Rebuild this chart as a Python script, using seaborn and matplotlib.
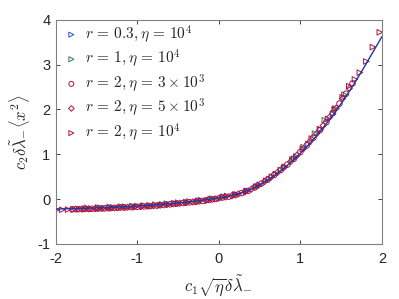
import numpy as np
import pandas as pd
import seaborn as sns
from matplotlib import pyplot as plt

# theory curve
curve_x = [-2, -1.875, -1.75, -1.625, -1.5, -1.375, -1.25, -1.125, -1, -0.875, -0.75, -0.625,
           -0.5, -0.375, -0.25, -0.125, 0, 0.125, 0.25, 0.375, 0.5, 0.625, 0.75, 0.875,
           1, 1.125, 1.25, 1.375, 1.5, 1.625, 1.75, 1.875, 2]
curve_y = [-0.22, -0.215, -0.209, -0.203, -0.196, -0.188, -0.178, -0.167, -0.155, -0.14, -0.125, -0.105,
           -0.085, -0.06, -0.035, -0.005, 0.03, 0.068, 0.124, 0.205, 0.32, 0.456, 0.619, 0.807,
           1.02, 1.259, 1.524, 1.814, 2.13, 2.47, 2.84, 3.23, 3.62]

# simulation points
blue_x = [-1.45, -1.3, -1.15, -1.0, -0.85, -0.7, -0.55, -0.4, -0.25, -0.1, 0.05, 0.2, 0.35, 0.5,
          0.65, 0.8, 0.95, 1.1, 1.25, 1.4]
blue_y = [-0.193, -0.183, -0.168, -0.155, -0.138, -0.118, -0.092, -0.065, -0.035, 0.0, 0.047, 0.1,
          0.185, 0.32, 0.5, 0.7, 0.95, 1.23, 1.55, 1.9]

green_x = [-1.62, -1.48, -1.34, -1.2, -1.06, -0.92, -0.78, -0.64, -0.5, -0.36, -0.22, -0.08, 0.06,
           0.2, 0.34, 0.48, 0.62, 0.76, 0.9, 1.04, 1.18, 1.3, 1.42, 1.54]
green_y = [-0.19, -0.183, -0.175, -0.165, -0.152, -0.14, -0.123, -0.1, -0.077, -0.05, -0.02, 0.015,
           0.055, 0.1, 0.18, 0.29, 0.45, 0.65, 0.88, 1.16, 1.46, 1.76, 2.0, 2.33]

circ_x = [-1.80, -1.72, -1.64, -1.56, -1.48, -1.40, -1.32, -1.24, -1.16, -1.08, -1.00, -0.92, -0.84,
          -0.76, -0.68, -0.60, -0.52, -0.44, -0.36, -0.28, -0.20, -0.12, -0.04, 0.04, 0.12, 0.20,
          0.28, 0.36, 0.44, 0.52, 0.60, 0.68, 0.76, 0.84, 0.92, 1.00, 1.08, 1.16, 1.24, 1.32,
          1.40, 1.48, 1.56, 1.64]
circ_y = [-0.226, -0.223, -0.219, -0.215, -0.21, -0.205, -0.199, -0.192, -0.185, -0.178, -0.17,
          -0.162, -0.154, -0.142, -0.13, -0.115, -0.10, -0.087, -0.072, -0.056, -0.04, -0.018,
          0.005, 0.035, 0.055, 0.09, 0.135, 0.185, 0.26, 0.345, 0.435, 0.54, 0.65, 0.77, 0.90,
          1.05, 1.2, 1.37, 1.54, 1.72, 1.92, 2.13, 2.35, 2.58]

diam_x = [-1.76, -1.68, -1.60, -1.52, -1.44, -1.36, -1.28, -1.20, -1.12, -1.04, -0.96, -0.88, -0.80,
          -0.72, -0.64, -0.56, -0.48, -0.40, -0.32, -0.24, -0.16, -0.08, 0.00, 0.08, 0.16, 0.24,
          0.32, 0.40, 0.48, 0.56, 0.64, 0.72, 0.80, 0.88, 0.96, 1.04, 1.12, 1.20, 1.28, 1.36,
          1.44, 1.52, 1.60]
diam_y = [-0.222, -0.219, -0.215, -0.211, -0.206, -0.2, -0.194, -0.187, -0.18, -0.172, -0.164,
          -0.156, -0.146, -0.134, -0.12, -0.105, -0.091, -0.077, -0.062, -0.046, -0.027, -0.005,
          0.022, 0.047, 0.075, 0.115, 0.162, 0.225, 0.305, 0.392, 0.49, 0.597, 0.712, 0.837,
          0.98, 1.13, 1.29, 1.46, 1.64, 1.83, 2.03, 2.25, 2.47]

tri_x = [-1.99, -1.92, -1.85, -1.78, -1.71, -1.64, -1.56, -1.48, -1.40, -1.31, -1.22, -1.13, -1.03,
         -0.93, -0.83, -0.72, -0.61, -0.50, -0.38, -0.26, -0.14, -0.02, 0.10, 0.22, 0.34, 0.46,
         0.58, 0.70, 0.81, 0.92, 1.03, 1.14, 1.24, 1.34, 1.43, 1.52, 1.60, 1.67, 1.73, 1.81, 1.89, 1.975]
tri_y = [-0.24, -0.237, -0.233, -0.23, -0.227, -0.223, -0.219, -0.214, -0.209, -0.202, -0.194,
         -0.186, -0.177, -0.166, -0.155, -0.14, -0.122, -0.102, -0.081, -0.057, -0.028, 0.005,
         0.07, 0.105, 0.175, 0.28, 0.41, 0.56, 0.72, 0.9, 1.12, 1.35, 1.56, 1.79, 2.02, 2.27,
         2.52, 2.67, 2.82, 3.07, 3.39, 3.72]

labels = [r'$r\,=\,0.3, \eta\,=\,10^4$', r'$r\,=\,1, \eta\,=\,10^4$', r'$r\,=\,2, \eta\,=\,3\times10^3$',
          r'$r\,=\,2, \eta\,=\,5\times10^3$', r'$r\,=\,2, \eta\,=\,10^4$']

sns.set_style('ticks')
plt.rcParams['font.family'] = ['Liberation Sans', 'DejaVu Sans']
plt.rcParams['mathtext.fontset'] = 'cm'
plt.rcParams['axes.unicode_minus'] = False

blue = '#2f4fc4'
green = '#2f7a55'
red = '#b0143a'

series = [
    (blue_x, blue_y, '>', blue),
    (green_x, green_y, '>', green),
    (circ_x, circ_y, 'o', red),
    (diam_x, diam_y, 'D', red),
    (tri_x, tri_y, '>', red),
]

fig = plt.figure(figsize=(3.99, 2.99), dpi=100)
ax = fig.add_axes([0.140, 0.184, 0.817, 0.750])

for (xs, ys, m, c), lab in zip(series, labels):
    ms = 16 if m != 'D' else 10
    sns.scatterplot(x=xs, y=ys, marker=m, s=ms, facecolor='none', edgecolor=c,
                    linewidth=0.7, label=lab, ax=ax, zorder=2)

sns.lineplot(x=curve_x, y=curve_y, color='#1a38b0', linewidth=1.0, ax=ax, zorder=3)

ax.set_xlim(-2, 2)
ax.set_ylim(-1, 4)
ax.set_xticks([-2, -1, 0, 1, 2])
ax.set_yticks([-1, 0, 1, 2, 3, 4])
ax.tick_params(direction='in', length=3, width=0.6, labelsize=10.5, colors='#262626',
               top=True, right=True)
ax.tick_params(axis='x', pad=6)
ax.tick_params(axis='y', pad=4)
for sp in ax.spines.values():
    sp.set_color('#808080')
    sp.set_linewidth(0.8)

ax.set_xlabel(r'$c_1\sqrt{\eta}\delta\tilde{\lambda}_{-}$', fontsize=12, labelpad=5)
ax.set_ylabel(r'$c_2\delta\tilde{\lambda}_{-}\langle x^2\rangle$', fontsize=12, labelpad=4)

ax.legend(loc='upper left', frameon=False, fontsize=11, handletextpad=0.1,
          labelspacing=0.2, borderaxespad=0.0, handlelength=1.6, markerscale=0.9,
          borderpad=0.0, bbox_to_anchor=(0.01, 0.985))

fig.savefig('out.png', dpi=100)
